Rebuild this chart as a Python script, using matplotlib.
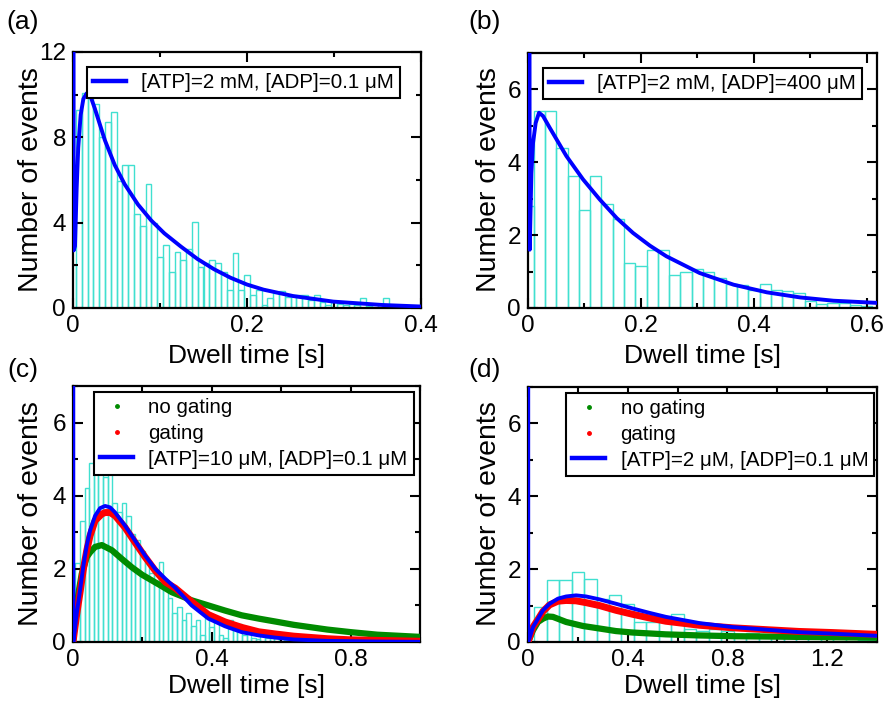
import matplotlib
matplotlib.use("Agg")
import matplotlib.pyplot as plt
from matplotlib.lines import Line2D
from matplotlib.ticker import MultipleLocator, FuncFormatter

plt.rcParams['font.family'] = ['Liberation Sans', 'DejaVu Sans']

# ---------------- data ----------------
# histogram bin widths (bins centred on multiples of the width)
w_a, w_b, w_c, w_d = 0.4 / 60, 0.02, 1 / 75, 0.05

hist_a = [2.0, 9.3, 10.06, 11.3, 9.55, 8.0, 8.7, 9.17, 5.97, 6.7, 6.7, 4.4, 3.85, 5.8,
          4.0, 2.4, 2.95, 1.7, 2.61, 2.25, 2.77, 4.02, 1.91, 2.1, 2.25, 2.1, 1.7, 0.84,
          2.58, 0.84, 1.53, 0.63, 0.84, 0.12, 0.45, 0.7, 0.82, 0.52, 0.6, 0.6, 0.6, 0.36,
          0.63, 0.3, 0.14, 0.3, 0.2, 0.15, 0.2, 0.15, 0.47, 0.1, 0.2, 0.2, 0.47, 0.1,
          0.15, 0.1, 0.1, 0.05]
hist_b = [2.79, 5.40, 5.40, 4.40, 3.62, 2.68, 3.62, 2.86, 2.43, 1.24, 1.16, 1.60, 1.60,
          0.91, 0.98, 1.07, 0.98, 0.82, 0.66, 0.62, 0.50, 0.66, 0.50, 0.48, 0.41, 0.18,
          0.10, 0.14, 0.14, 0.07, 0.05]
hist_c = [0.5, 2.15, 3.3, 4.2, 4.9, 4.6, 4.8, 4.5, 4.7, 3.8, 3.55, 3.8, 3.45, 2.95, 2.8,
          2.5, 2.2, 1.9, 1.95, 2.2, 1.5, 1.2, 0.8, 0.95, 0.6, 0.8, 0.45, 0.6, 0.2, 0.8,
          0.4, 0.6, 0.2, 0.1, 0.6, 0.5, 0.5, 0.2, 0.3, 0.1, 0.08, 0.2, 0.1, 0.12, 0.12,
          0.1, 0.05]
hist_d = [0.0, 0.96, 1.69, 1.69, 1.92, 1.74, 1.19, 1.28, 1.05, 0.55, 0.55, 0.65, 0.78,
          0.35, 0.3, 0.35, 0.3, 0.2, 0.25, 0.2, 0.15, 0.2, 0.1, 0.1, 0.15, 0.1, 0.1,
          0.05, 0.05]

# theory curves (blue)
ta = [0, 0.0008, 0.0023, 0.0042, 0.006, 0.0088, 0.0119, 0.0157, 0.0195, 0.025, 0.0366,
      0.048, 0.0594, 0.0747, 0.09, 0.105, 0.124, 0.143, 0.162, 0.181, 0.2, 0.219, 0.253,
      0.299, 0.356, 0.4]
ya = [60, 2.7, 2.9, 5.6, 7.5, 9.05, 9.8, 10.06, 10.0, 9.36, 7.87, 6.7, 5.8, 4.85, 4.1,
      3.5, 2.88, 2.3, 1.82, 1.42, 1.1, 0.86, 0.56, 0.3, 0.14, 0.07]

tb = [0, 0.003, 0.006, 0.0089, 0.0136, 0.0195, 0.0266, 0.0384, 0.068, 0.0975, 0.127,
      0.157, 0.186, 0.216, 0.245, 0.304, 0.364, 0.423, 0.482, 0.541, 0.618]
yb = [60, 1.6, 3.7, 4.53, 5.08, 5.36, 5.27, 4.95, 4.17, 3.53, 2.98, 2.47, 2.06, 1.71,
      1.42, 0.96, 0.64, 0.43, 0.29, 0.2, 0.14]

tc = [0, 0.001, 0.0106, 0.0202, 0.030, 0.0395, 0.049, 0.0636, 0.078, 0.0925, 0.107,
      0.1215, 0.150, 0.179, 0.208, 0.237, 0.266, 0.295, 0.342, 0.39, 0.438, 0.486,
      0.535, 0.583, 0.636, 0.733, 0.85, 1.0]
yc = [60, 0, 0.77, 1.41, 2.09, 2.63, 3.04, 3.45, 3.66, 3.72, 3.68, 3.54, 3.18, 2.77,
      2.36, 2.0, 1.73, 1.48, 1.0, 0.64, 0.43, 0.27, 0.18, 0.12, 0.07, 0.03, 0.015, 0.005]

td = [0, 0.001, 0.02, 0.04, 0.06, 0.0867, 0.12, 0.153, 0.193, 0.233, 0.287, 0.353, 0.42,
      0.487, 0.553, 0.687, 0.82, 0.953, 1.087, 1.22, 1.4]
yd = [60, 0, 0.41, 0.64, 0.87, 1.05, 1.19, 1.25, 1.28, 1.25, 1.17, 1.05, 0.92, 0.8,
      0.69, 0.52, 0.41, 0.34, 0.27, 0.23, 0.17]

# simulations: gating (red) and no gating (green)
tc_gate = [0, 0.0106, 0.0202, 0.030, 0.0396, 0.049, 0.0637, 0.083, 0.0925, 0.107, 0.1215,
           0.150, 0.179, 0.208, 0.237, 0.266, 0.295, 0.342, 0.39, 0.438, 0.486, 0.535,
           0.583, 0.636, 0.733, 0.8, 0.9, 1.0]
yc_gate = [0, 0.75, 1.35, 2.0, 2.5, 2.9, 3.32, 3.5, 3.54, 3.54, 3.45, 3.13, 2.72, 2.32,
           1.95, 1.64, 1.47, 1.1, 0.75, 0.55, 0.4, 0.28, 0.22, 0.16, 0.09, 0.06, 0.04, 0.02]
tc_nogate = [0, 0.0059, 0.0155, 0.0251, 0.0396, 0.0492, 0.0637, 0.083, 0.112, 0.141,
             0.170, 0.199, 0.228, 0.257, 0.285, 0.314, 0.342, 0.39, 0.438, 0.486, 0.535,
             0.583, 0.636, 0.733, 0.8, 0.877, 1.0]
yc_nogate = [0, 0.59, 1.32, 1.86, 2.32, 2.45, 2.6, 2.65, 2.51, 2.27, 2.04, 1.84, 1.68,
             1.52, 1.36, 1.25, 1.14, 1.0, 0.86, 0.73, 0.64, 0.56, 0.47, 0.34, 0.27, 0.2, 0.14]

td_gate = [0, 0.02, 0.04, 0.06, 0.0867, 0.12, 0.153, 0.193, 0.233, 0.287, 0.353, 0.42,
           0.487, 0.553, 0.687, 0.82, 0.953, 1.087, 1.22, 1.4]
yd_gate = [0, 0.41, 0.62, 0.84, 1.02, 1.12, 1.14, 1.13, 1.08, 1.0, 0.87, 0.76, 0.66,
           0.57, 0.46, 0.39, 0.34, 0.29, 0.26, 0.21]
td_nogate = [0, 0.02, 0.04, 0.06, 0.08, 0.1, 0.153, 0.22, 0.287, 0.353, 0.42, 0.553,
             0.687, 0.82, 0.953, 1.087, 1.4]
yd_nogate = [0, 0.32, 0.55, 0.64, 0.7, 0.69, 0.55, 0.44, 0.37, 0.30, 0.26, 0.21, 0.18,
             0.16, 0.15, 0.14, 0.12]

labels = ["[ATP]=2 mM, [ADP]=0.1 μM", "[ATP]=2 mM, [ADP]=400 μM",
          "[ATP]=10 μM, [ADP]=0.1 μM", "[ATP]=2 μM, [ADP]=0.1 μM"]
sim_labels = ["no gating", "gating"]
panel_tags = ["(a)", "(b)", "(c)", "(d)"]
xlabel = "Dwell time [s]"
ylabel = "Number of events"

# ---------------- style ----------------
TURQ = '#40e0d0'
BLUE = '#0000ff'
RED = '#ff0000'
GREEN = '#008b00'
W, H = 886, 705

fig = plt.figure(figsize=(W / 100, H / 100), dpi=100)


def px_axes(left, right, top, bottom):
    return fig.add_axes([left / W, (H - bottom) / H, (right - left) / W, (bottom - top) / H])


def fmt(v, pos):
    return '0' if abs(v) < 1e-9 else f'{v:g}'


def style(ax, xmax, ymax, xmaj, xmin, ymaj, ymin):
    ax.set_xlim(0, xmax)
    ax.set_ylim(0, ymax)
    ax.xaxis.set_major_locator(MultipleLocator(xmaj))
    ax.xaxis.set_minor_locator(MultipleLocator(xmin))
    ax.yaxis.set_major_locator(MultipleLocator(ymaj))
    ax.yaxis.set_minor_locator(MultipleLocator(ymin))
    ax.xaxis.set_major_formatter(FuncFormatter(fmt))
    ax.yaxis.set_major_formatter(FuncFormatter(fmt))
    ax.tick_params(which='both', direction='in', top=True, right=True, width=1.5,
                   labelsize=17.5, pad=5)
    ax.tick_params(which='major', length=7.5)
    ax.tick_params(which='minor', length=3.8)
    for s in ax.spines.values():
        s.set_linewidth(1.6)


def hist(ax, w, vals):
    centers = [i * w for i in range(len(vals))]
    ax.bar(centers, vals, width=w, fill=False, edgecolor=TURQ, linewidth=1.0, zorder=1)


def legend(ax, handles, anchor):
    leg = ax.legend(handles=handles, loc='upper left', bbox_to_anchor=anchor,
                    borderaxespad=0, fontsize=14.8, frameon=True, fancybox=False,
                    framealpha=1, edgecolor='black', handlelength=1.6,
                    handletextpad=0.75, borderpad=0.3, labelspacing=0.33)
    leg.get_frame().set_linewidth(1.5)
    leg.set_zorder(10)


blue_kw = dict(color=BLUE, lw=2.8, zorder=4, solid_joinstyle='round')

# panel a
axa = px_axes(73, 421, 52, 308)
hist(axa, w_a, hist_a)
axa.plot(ta, ya, **blue_kw)
style(axa, 0.4, 12, 0.2, 0.1, 4, 2)
legend(axa, [Line2D([], [], color=BLUE, lw=3.2, label=labels[0])], (0.040, 0.941))

# panel b
axb = px_axes(528, 877, 53, 308)
hist(axb, w_b, hist_b)
axb.plot(tb, yb, **blue_kw)
style(axb, 0.618, 7, 0.2, 0.1, 2, 1)
legend(axb, [Line2D([], [], color=BLUE, lw=3.2, label=labels[1])], (0.043, 0.941))


def sim_handles(lab):
    return [Line2D([], [], color=GREEN, marker='o', ms=2.5, ls='none', label=sim_labels[0]),
            Line2D([], [], color=RED, marker='o', ms=2.5, ls='none', label=sim_labels[1]),
            Line2D([], [], color=BLUE, lw=3.2, label=lab)]


# panel c
axc = px_axes(73, 420, 386, 642)
hist(axc, w_c, hist_c)
axc.plot(tc_nogate, yc_nogate, color=GREEN, lw=4.5, zorder=2.6, solid_capstyle='round')
axc.plot(tc_gate, yc_gate, color=RED, lw=5, zorder=2.7, solid_capstyle='round')
axc.plot(tc, yc, **blue_kw)
style(axc, 1.0, 7, 0.4, 0.2, 2, 1)
legend(axc, sim_handles(labels[2]), (0.0605, 0.977))

# panel d
axd = px_axes(528, 877, 387, 642)
hist(axd, w_d, hist_d)
axd.plot(td_nogate, yd_nogate, color=GREEN, lw=4.5, zorder=2.6, solid_capstyle='round')
axd.plot(td_gate, yd_gate, color=RED, lw=5, zorder=2.7, solid_capstyle='round')
axd.plot(td, yd, **blue_kw)
style(axd, 1.4, 7, 0.4, 0.2, 2, 1)
legend(axd, sim_handles(labels[3]), (0.109, 0.977))

# axis labels
for xc_px in (31, 489):
    for yc_px in (180, 514):
        fig.text(xc_px / W, 1 - yc_px / H, ylabel, rotation=90, ha='center',
                 va='center', fontsize=20.5)
for xc_px in (247, 702):
    fig.text(xc_px / W, 1 - 356 / H, xlabel, ha='center', va='center', fontsize=19)
    fig.text(xc_px / W, 1 - 686 / H, xlabel, ha='center', va='center', fontsize=19)

fig.text(23 / W, 1 - 22 / H, panel_tags[0], ha='center', va='center', fontsize=19)
fig.text(485 / W, 1 - 22 / H, panel_tags[1], ha='center', va='center', fontsize=19)
fig.text(23 / W, 1 - 370 / H, panel_tags[2], ha='center', va='center', fontsize=19)
fig.text(485 / W, 1 - 370 / H, panel_tags[3], ha='center', va='center', fontsize=19)

fig.savefig('out.png', dpi=100)
